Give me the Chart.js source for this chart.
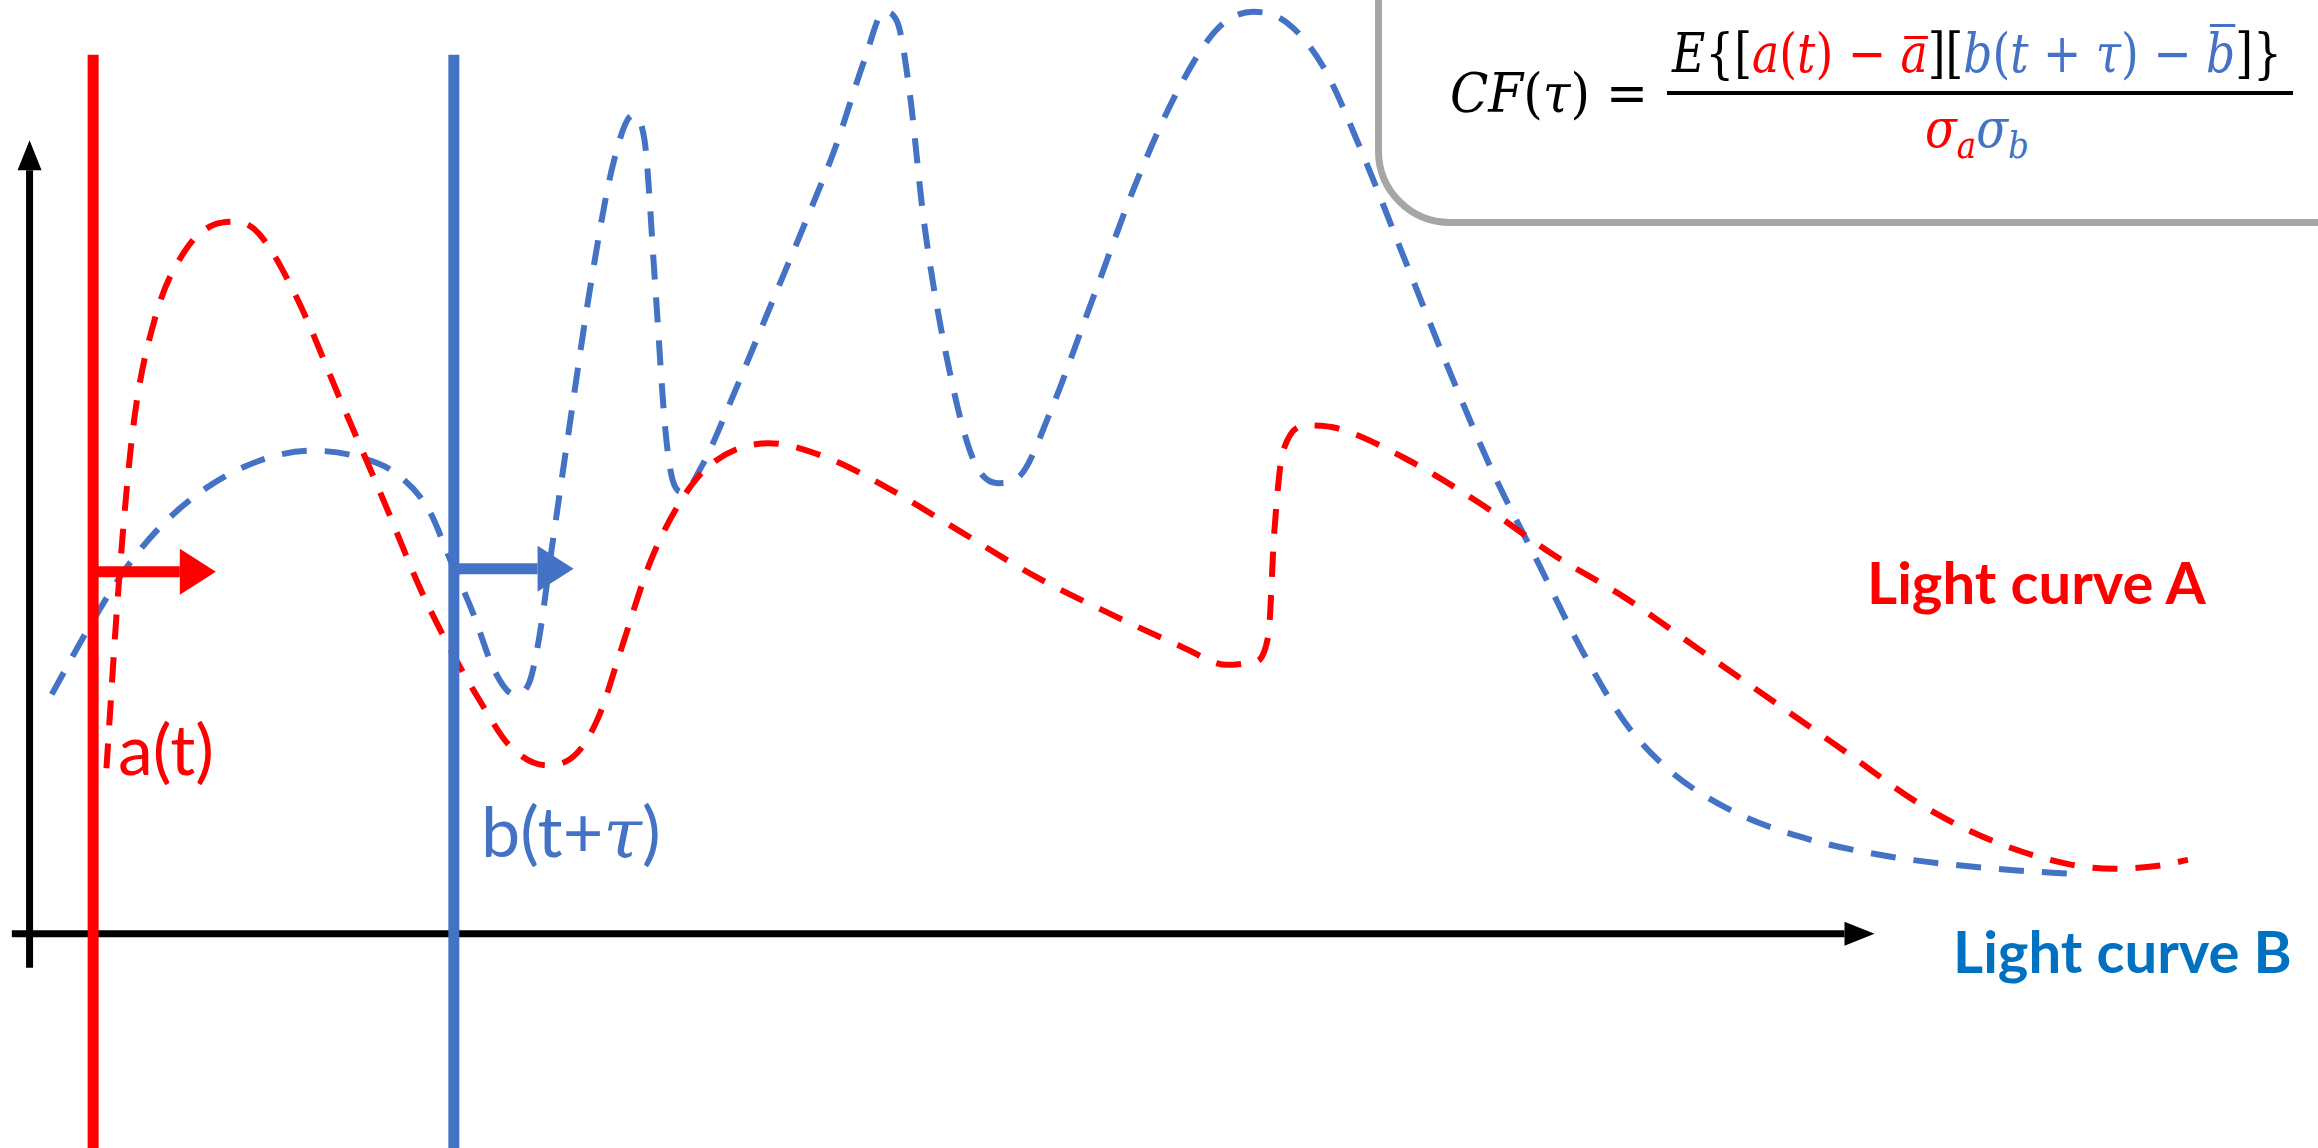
<!DOCTYPE html>
<html>
<head>
<meta charset="utf-8">
<script src="https://cdn.jsdelivr.net/npm/chart.js@4.4.1/dist/chart.umd.min.js"></script>
<style>
  html, body { margin: 0; padding: 0; background: #fff; overflow: hidden; }
  #wrap { position: relative; width: 2318px; height: 1148px; }
  #plot { position: absolute; left: 0; top: 0; }
  .label { position: absolute; white-space: nowrap; line-height: 1; font-family: Lato, "Open Sans", sans-serif; }
  .math { position: absolute; white-space: nowrap; line-height: 1; font-family: "DejaVu Serif", serif; font-size: 54px; transform-origin: left top; }
  .math i { font-style: italic; }
  .red { color: #ff0000; }
  .blue { color: #4472c4; }
  .bar { position: relative; }
  .bar::before { content: ""; position: absolute; left: 14%; right: 0; border-top: 3px solid currentColor; }
  .bar.a::before { top: 0.25em; }
  .bar.b::before { top: 0.03em; }
  #cfBox {
    position: absolute; left: 1375px; top: -120px; width: 1100px; height: 346px;
    border: 7px solid #a6a6a6; border-radius: 75px; background: #fff; box-sizing: border-box;
  }
  sub { font-size: 0.7em; vertical-align: -0.3em; line-height: 0; }
</style>
</head>
<body>
<div id="wrap">
  <canvas id="plot" width="2318" height="1148"></canvas>

  <div class="label red" style="left:118px; top:713px; font-size:70px;">a(t)</div>
  <div class="label blue" style="left:481px; top:795px; font-size:70px;">b(t+<i style="font-family:'DejaVu Serif',serif;">τ</i>)</div>
  <div class="label red" style="left:1867px; top:553px; font-size:58px; font-weight:700;">Light curve A</div>
  <div class="label" style="left:1953px; top:922px; font-size:58px; font-weight:700; color:#0070c0;">Light curve B</div>

  <div id="cfBox"></div>
  <div id="cfLeft" class="math" style="left:1450px; top:67px;"><i>CF</i>(<i>τ</i>) =</div>
  <div id="cfNum" class="math" style="left:1672px; top:27px;"><i>E</i>{[<span class="red"><i>a</i>(<i>t</i>) − <span class="bar a"><i>a</i></span></span>][<span class="blue"><i>b</i>(<i>t</i> + <i>τ</i>) − <span class="bar b"><i>b</i></span></span>]}</div>
  <div style="position:absolute; left:1667px; top:91px; width:626px; height:4px; background:#000;"></div>
  <div id="cfDen" class="math" style="left:1925px; top:102px;"><span class="red"><i>σ</i><sub><i>a</i></sub></span><span class="blue"><i>σ</i><sub><i>b</i></sub></span></div>
</div>

<script>
// units: time along x, flux along y, origin where the black axes cross
const timeA = [5.2, 6.0, 7.0, 8.5, 10.5, 12.5, 14.0, 15.5, 18.0, 21.0, 24.0, 26.5, 28.5, 30.5, 32.5, 35.0,
  37.0, 38.5, 40.0, 42.0, 44.0, 46.0, 50.0, 54.0, 58.0, 63.0, 68.0, 73.0, 78.0, 81.0, 82.8, 83.8,
  84.2, 84.8, 86.5, 88.5, 93.0, 98.0, 103.0, 108.0, 113.0, 118.0, 123.0, 128.0, 133.0, 138.0, 141.0, 144.0, 146.0];
const fluxA = [11.2, 23.2, 34.2, 41.7, 46.2, 48.0, 48.2, 47.4, 43.2, 36.2, 29.2, 23.2, 19.2, 15.7, 12.7, 11.4,
  12.2, 14.7, 19.2, 25.2, 29.2, 31.7, 33.2, 32.2, 30.2, 27.2, 24.2, 21.7, 19.4, 18.2, 18.4, 20.2,
  27.2, 32.7, 34.4, 34.2, 32.2, 29.2, 25.7, 22.7, 19.2, 15.7, 12.2, 8.7, 6.2, 4.7, 4.4, 4.6, 5.0];

const timeB = [1.5, 4.0, 6.5, 9.0, 12.0, 15.5, 19.0, 22.5, 25.0, 27.0, 28.5, 30.0, 31.5, 32.8, 33.8, 34.5,
  35.2, 36.5, 38.0, 39.5, 40.8, 41.6, 42.3, 43.0, 43.5, 44.2, 45.5, 47.5, 50.0, 52.5, 54.5, 56.5,
  57.8, 58.7, 59.5, 60.5, 62.0, 63.8, 65.5, 67.0, 69.0, 72.0, 75.0, 78.0, 80.5, 82.8, 85.0, 87.5,
  90.0, 93.0, 96.0, 99.0, 102.0, 105.0, 108.0, 111.0, 115.0, 120.0, 126.0, 133.0, 139.0];
const fluxB = [16.2, 20.7, 24.7, 27.7, 30.2, 32.0, 32.7, 32.2, 31.0, 28.7, 25.2, 21.7, 17.7, 16.2, 17.0, 20.2,
  25.2, 34.2, 44.2, 52.2, 55.4, 53.7, 44.2, 34.2, 30.7, 29.9, 31.7, 36.2, 42.2, 48.2, 53.2, 59.2,
  62.4, 61.7, 57.2, 48.2, 39.2, 32.2, 30.5, 31.0, 35.2, 43.2, 51.2, 57.7, 61.4, 62.4, 61.7, 58.7,
  53.2, 45.7, 38.2, 31.2, 25.2, 19.2, 14.2, 11.0, 8.4, 6.5, 5.2, 4.4, 4.0];

const markerTimes = [4.3, 28.7];   // t and t + tau
const markerSpan = [-14.5, 59.5];
const lagFlux = [24.5, 24.7];
const lagTipTime = [12.6, 36.8];
const axisTime = [-1.2, 124.8];
const axisFlux = [-2.3, 53.7];
const viewTime = [-2, 154.8];
const viewFlux = [-14.5, 63.2];

const RED = "#ff0000";
const BLUE = "#4472c4";

function toPoints(xs, ys) {
  return xs.map((x, i) => ({ x, y: ys[i] }));
}

function drawArrow(ctx, x1, y1, x2, y2, color, width, headLen, headWidth) {
  const ang = Math.atan2(y2 - y1, x2 - x1);
  const bx = x2 - headLen * Math.cos(ang);
  const by = y2 - headLen * Math.sin(ang);
  const hx = (headWidth / 2) * Math.sin(ang);
  const hy = (headWidth / 2) * Math.cos(ang);
  ctx.save();
  ctx.strokeStyle = color;
  ctx.fillStyle = color;
  ctx.lineWidth = width;
  ctx.lineCap = "butt";
  ctx.beginPath();
  ctx.moveTo(x1, y1);
  ctx.lineTo(bx, by);
  ctx.stroke();
  ctx.beginPath();
  ctx.moveTo(x2, y2);
  ctx.lineTo(bx + hx, by - hy);
  ctx.lineTo(bx - hx, by + hy);
  ctx.closePath();
  ctx.fill();
  ctx.restore();
}

const axesPlugin = {
  id: "axesArrows",
  beforeDatasetsDraw(chart) {
    const { ctx, scales } = chart;
    const x = scales.x, y = scales.y;
    drawArrow(ctx, x.getPixelForValue(axisTime[0]), y.getPixelForValue(0),
      x.getPixelForValue(axisTime[1]), y.getPixelForValue(0), "#000", 7, 30, 24);
    drawArrow(ctx, x.getPixelForValue(0), y.getPixelForValue(axisFlux[0]),
      x.getPixelForValue(0), y.getPixelForValue(axisFlux[1]), "#000", 7, 30, 24);
  },
  afterDatasetsDraw(chart) {
    const { ctx, scales } = chart;
    const x = scales.x, y = scales.y;
    [RED, BLUE].forEach((color, i) => {
      drawArrow(ctx, x.getPixelForValue(markerTimes[i]), y.getPixelForValue(lagFlux[i]),
        x.getPixelForValue(lagTipTime[i]), y.getPixelForValue(lagFlux[i]), color, 11, 36, 46);
    });
  },
};

const dashed = { showLine: true, pointRadius: 0, borderWidth: 6, borderDash: [25, 18], cubicInterpolationMode: "monotone", fill: false };

new Chart(document.getElementById("plot"), {
  type: "scatter",
  data: {
    datasets: [
      { label: "a(t)", data: markerSpan.map((f) => ({ x: markerTimes[0], y: f })),
        showLine: true, pointRadius: 0, borderWidth: 11, borderColor: RED, order: 0 },
      { label: "b(t+tau)", data: markerSpan.map((f) => ({ x: markerTimes[1], y: f })),
        showLine: true, pointRadius: 0, borderWidth: 11, borderColor: BLUE, order: 1 },
      { label: "Light curve A", data: toPoints(timeA, fluxA), borderColor: RED, order: 2, ...dashed },
      { label: "Light curve B", data: toPoints(timeB, fluxB), borderColor: BLUE, order: 3, ...dashed },
    ],
  },
  options: {
    responsive: false,
    animation: false,
    layout: { padding: 0 },
    plugins: { legend: { display: false }, tooltip: { enabled: false } },
    scales: {
      x: { type: "linear", min: viewTime[0], max: viewTime[1], display: false },
      y: { type: "linear", min: viewFlux[0], max: viewFlux[1], display: false },
    },
  },
  plugins: [axesPlugin],
});

// squeeze the serif formula pieces to the widths they take in the picture
function fitWidth(id, targetWidth) {
  const el = document.getElementById(id);
  el.style.transform = "none";
  const natural = el.getBoundingClientRect().width;
  el.style.transform = `scaleX(${targetWidth / natural})`;
}

function fitFormula() {
  fitWidth("cfLeft", 198);
  fitWidth("cfNum", 610);
  fitWidth("cfDen", 104);
}

fitFormula();
document.fonts.ready.then(fitFormula);
</script>
</body>
</html>
